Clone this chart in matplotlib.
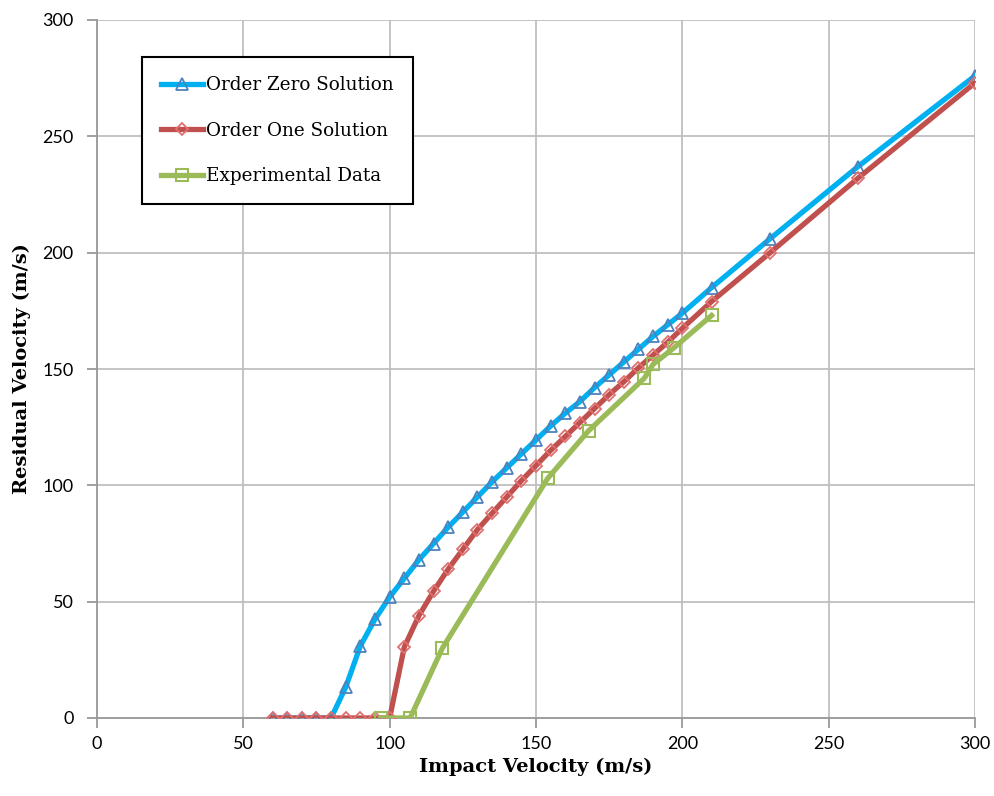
import numpy as np
import matplotlib
matplotlib.use("Agg")
import matplotlib.pyplot as plt

# order zero solution
x_zero = [60, 65, 70, 75, 80, 85, 90, 95, 100, 105, 110, 115, 120, 125, 130, 135, 140,
          145, 150, 155, 160, 165, 170, 175, 180, 185, 190, 195, 200, 210, 230, 260, 300]
v_zero = [0, 0, 0, 0, 0, 13.3, 31, 42.5, 52, 60, 68, 75, 82, 88.5, 95, 101.5, 107.5,
          113.5, 119.5, 125.5, 131, 136, 142, 147.5, 153, 158.5, 164, 169, 174, 185, 206, 237, 276]

# order one solution
x_one = [60, 65, 70, 75, 80, 85, 90, 95, 100, 105, 110, 115, 120, 125, 130, 135, 140,
         145, 150, 155, 160, 165, 170, 175, 180, 185, 190, 195, 200, 210, 230, 260, 300]
v_one = [0, 0, 0, 0, 0, 0, 0, 0, 0, 30.5, 44, 54.5, 64, 72.5, 81, 88, 95,
         102, 108.5, 115, 121, 127, 133, 139, 144.5, 150.5, 156, 161.5, 167.5, 179, 200, 232, 273]

# experiments
x_exp = [97, 107, 118, 154, 168, 187, 190, 197, 210]
v_exp = [0, 0, 30, 103, 123.5, 146, 152, 159, 173]

fig = plt.figure(figsize=(9.95, 7.96), dpi=100)
ax = fig.add_axes([97/995, 1-718/796, (975-97)/995, (718-20)/796])

ax.plot(x_zero, v_zero, "-", color="#00b0f0", lw=3.8, marker="^", ms=9,
        mfc="none", mec="#4f81bd", mew=1.3, label="Order Zero Solution", zorder=3)
ax.plot(x_one, v_one, "-", color="#c0504d", lw=3.8, marker="D", ms=6,
        mfc="none", mec="#e07070", mew=1.3, label="Order One Solution", zorder=3)
ax.plot(x_exp, v_exp, "-", color="#9bbb59", lw=3.8, marker="s", ms=9,
        mfc="none", mec="#9bbb59", mew=1.5, label="Experimental Data", zorder=3)

ax.set_xlim(0, 300)
ax.set_ylim(0, 300)
ax.set_xticks(np.arange(0, 301, 50))
ax.set_yticks(np.arange(0, 301, 50))
ax.grid(True, color="#bfbfbf", lw=1.3)
ax.set_axisbelow(True)
for s in ["top", "right"]:
    ax.spines[s].set_visible(False)
for s in ["left", "bottom"]:
    ax.spines[s].set_color("#999999")
    ax.spines[s].set_linewidth(1.3)
ax.tick_params(length=7, width=1.3, color="#999999", labelsize=13)
ax.tick_params(axis="y", pad=10)
ax.tick_params(axis="x", pad=6)
for lab in ax.get_xticklabels() + ax.get_yticklabels():
    lab.set_family("Lato")

ax.set_xlabel("Impact Velocity (m/s)", family="DejaVu Serif", weight="bold", fontsize=14, labelpad=4)
ax.set_ylabel("Residual Velocity (m/s)", family="DejaVu Serif", weight="bold", fontsize=14, labelpad=8)

leg = ax.legend(loc="upper left", bbox_to_anchor=(0.051, 0.947), borderaxespad=0, frameon=True,
                fancybox=False, edgecolor="black", framealpha=1, handlelength=2.3, handletextpad=0.15,
                labelspacing=1.5, borderpad=1.05, prop={"family": "DejaVu Serif", "size": 13.2})
leg.get_frame().set_linewidth(1.5)

fig.savefig("out.png", dpi=100)
